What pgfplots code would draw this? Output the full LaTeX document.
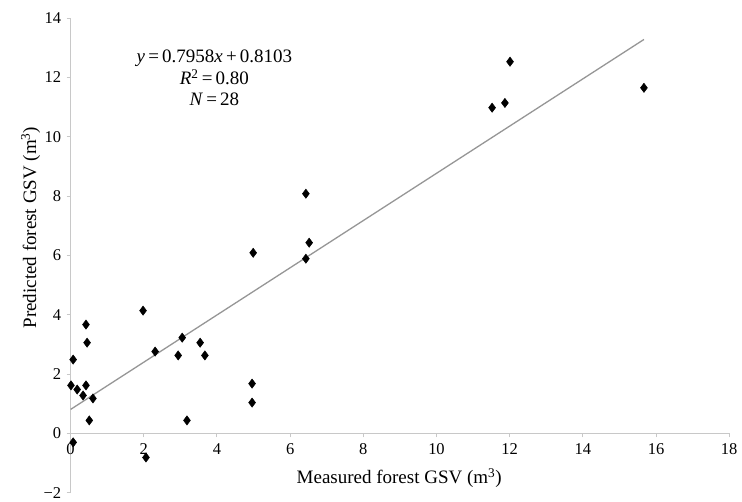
\documentclass[border=0pt]{standalone}
\usepackage{fontspec}
\setmainfont{Liberation Serif}
\usepackage{pgfplots}
\pgfplotsset{compat=1.18}

\definecolor{axisgray}{RGB}{200,200,200}
\definecolor{fitgray}{RGB}{150,150,150}

\begin{document}
\begin{tikzpicture}
\begin{axis}[
  scale only axis, width=659pt, height=475pt,
  xmin=0, xmax=18, ymin=-2, ymax=14,
  axis x line=middle, axis y line=left,
  axis line style={draw=axisgray, line width=1.4pt, -},
  xtick={0,2,...,18}, ytick={-2,0,...,14},
  yticklabels={−2,0,2,4,6,8,10,12,14},
  tick align=outside, major tick length=4pt,
  tick style={draw=axisgray, line width=1pt},
  hide obscured x ticks=false, hide obscured y ticks=false,
  tick label style={font=\fontsize{16.5}{18}\selectfont, text=black},
  xticklabel style={yshift=-3pt},
  yticklabel style={xshift=-2pt},
  /pgf/number format/assume math mode=true,
  clip=false,
]
% invisible frame with the reference's margins
\path (axis cs:-1.93,-2.22) rectangle (axis cs:18.35,14.61);

% regression line
\addplot[fitgray, line width=1.3pt] coordinates {(0,0.8103) (15.67,13.28)};

% observations
\addplot[only marks, mark=diamond*, mark size=4.6pt,
  mark options={fill=black, draw=black, line width=0.5pt}] table {
x     y
4.99  6.09
1.98  4.14
0.42  3.67
0.45  3.06
0.07  2.49
2.31  2.76
3.05  3.23
2.94  2.63
3.54  3.06
3.67  2.63
0.01  1.62
0.18  1.48
0.42  1.62
0.34  1.28
0.61  1.18
0.51  0.44
3.18  0.44
4.96  1.68
4.96  1.04
0.07  -0.30
2.06  -0.81
6.43  8.08
6.52  6.43
6.43  5.89
12.01 12.53
11.87 11.14
11.52 10.98
15.67 11.65
};

\node[anchor=base, font=\fontsize{19}{21}\selectfont] at (axis cs:8.98,-1.68)
  {Measured forest GSV (m\textsuperscript{3})};
\node[rotate=90, font=\fontsize{19}{21}\selectfont] at (axis cs:-1.09,6.94)
  {Predicted forest GSV (m\textsuperscript{3})};

\node[anchor=base, font=\fontsize{19}{21}\selectfont] at (axis cs:3.93,12.49)
  {\textit{y}\,=\,0.7958\textit{x}\,+\,0.8103};
\node[anchor=base, font=\fontsize{19}{21}\selectfont] at (axis cs:3.93,11.75)
  {\textit{R}\textsuperscript{2}\,=\,0.80};
\node[anchor=base, font=\fontsize{19}{21}\selectfont] at (axis cs:3.93,11.04)
  {\textit{N}\,=\,28};
\end{axis}
\end{tikzpicture}
\end{document}
